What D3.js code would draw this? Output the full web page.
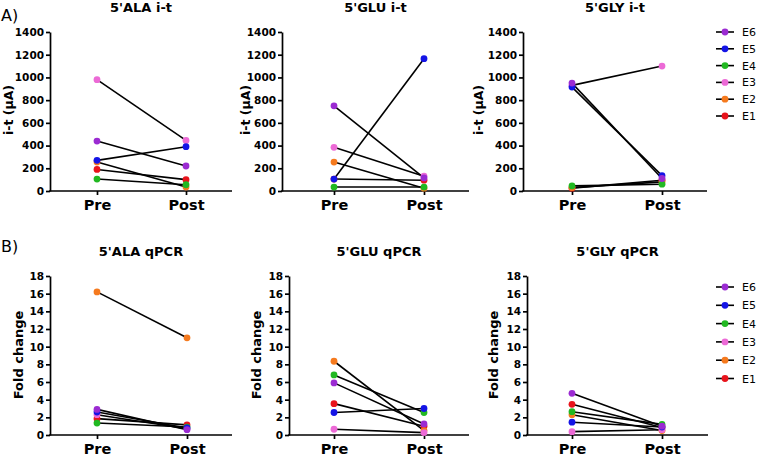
<!DOCTYPE html>
<html>
<head>
<meta charset="utf-8">
<script src="https://cdn.jsdelivr.net/npm/d3@7/dist/d3.min.js"></script>
<style>
  html, body { margin: 0; padding: 0; background: #fff; }
  svg { display: block; }
  text { font-family: "DejaVu Sans", sans-serif; fill: #000; }
</style>
</head>
<body>
<svg id="chart" width="758" height="456"></svg>
<script>
// ---------- data ----------
const seriesNames  = ["E1", "E2", "E3", "E4", "E5", "E6"];
const seriesColors = ["#e8141c", "#f57a1e", "#ec6ad6", "#21b821", "#1414e6", "#9b2bd2"];
const timepoints   = ["Pre", "Post"];

const itTicks = [0, 200, 400, 600, 800, 1000, 1200, 1400];
const fcTicks = [0, 2, 4, 6, 8, 10, 12, 14, 16, 18];

// values in order E1..E6
const alaItPre   = [190, 255, 980, 105, 270, 440];
const alaItPost  = [100, 35, 445, 55, 390, 220];
const gluItPre   = [105, 255, 385, 35, 105, 750];
const gluItPost  = [95, 25, 130, 35, 1165, 115];
const glyItPre   = [25, 30, 930, 45, 915, 950];
const glyItPost  = [95, 80, 1100, 60, 135, 110];

const alaQpcrPre  = [1.85, 16.2, 2.3, 1.35, 2.6, 2.9];
const alaQpcrPost = [1.15, 11.0, 0.7, 0.9, 0.8, 0.6];
const gluQpcrPre  = [3.55, 8.35, 0.65, 6.8, 2.55, 5.9];
const gluQpcrPost = [1.0, 0.5, 0.27, 2.55, 3.0, 1.25];
const glyQpcrPre  = [3.47, 2.3, 0.38, 2.64, 1.45, 4.72];
const glyQpcrPost = [0.85, 0.5, 0.6, 1.2, 0.9, 1.0];

// ---------- layout ----------
const rows = [
  { yTop: 32,  yBot: 191, ticks: itTicks, yLabel: "i-t (\u03bcA)", labelY: 110, titleY: 12, xLabY: 210,
    legendY0: 32, legendStep: 16.8, tag: "A)", tagY: 21 },
  { yTop: 276, yBot: 435, ticks: fcTicks, yLabel: "Fold change", labelY: 355, titleY: 256, xLabY: 454,
    legendY0: 287, legendStep: 18.3, tag: "B)", tagY: 252 }
];

const panels = [
  { title: "5'ALA i-t",  pre: alaItPre,   post: alaItPost,   row: 0, ax: 50,  x0: 97,  x1: 186, xe: 232, labX: 8 },
  { title: "5'GLU i-t",  pre: gluItPre,   post: gluItPost,   row: 0, ax: 282, x0: 334, x1: 424, xe: 469, labX: 245 },
  { title: "5'GLY i-t",  pre: glyItPre,   post: glyItPost,   row: 0, ax: 523, x0: 572, x1: 662, xe: 707, labX: 478 },
  { title: "5'ALA qPCR", pre: alaQpcrPre, post: alaQpcrPost, row: 1, ax: 50,  x0: 97,  x1: 187, xe: 232, labX: 18 },
  { title: "5'GLU qPCR", pre: gluQpcrPre, post: gluQpcrPost, row: 1, ax: 289, x0: 334, x1: 424, xe: 469, labX: 256 },
  { title: "5'GLY qPCR", pre: glyQpcrPre, post: glyQpcrPost, row: 1, ax: 527, x0: 572, x1: 662, xe: 708, labX: 493 }
];

const svg = d3.select("#chart");

panels.forEach(p => {
  const r = rows[p.row];
  const x = d3.scalePoint().domain(timepoints).range([p.x0, p.x1]);
  const y = d3.scaleLinear().domain([r.ticks[0], r.ticks[r.ticks.length - 1]]).range([r.yBot, r.yTop]);
  const g = svg.append("g");

  // y axis
  const yAx = g.append("g").attr("transform", `translate(${p.ax},0)`)
    .call(d3.axisLeft(y).tickValues(r.ticks).tickFormat(d3.format("d"))
      .tickSize(4).tickPadding(2).tickSizeOuter(0));
  yAx.selectAll("path, line").attr("stroke", "#000").attr("stroke-width", 1.7);
  yAx.selectAll("text").style("font-family", "DejaVu Sans").style("font-weight", "bold")
     .style("font-size", "10.5px").attr("fill", "#000");

  // x axis
  const xAx = g.append("g").attr("transform", `translate(0,${r.yBot})`)
    .call(d3.axisBottom(x).tickSize(4).tickPadding(5).tickSizeOuter(0));
  xAx.select(".domain").remove();
  xAx.append("line").attr("x1", p.ax - 0.85).attr("x2", p.xe).attr("y1", 0).attr("y2", 0)
     .attr("stroke", "#000").attr("stroke-width", 1.7);
  xAx.selectAll(".tick line").attr("stroke", "#000").attr("stroke-width", 1.7);
  xAx.selectAll("text").attr("y", null).attr("dy", null)
     .attr("transform", `translate(0,${r.xLabY - r.yBot})`)
     .style("font-family", "DejaVu Sans").style("font-weight", "bold")
     .style("font-size", "14.5px").attr("fill", "#000");

  // title
  g.append("text").attr("x", (p.ax + p.xe) / 2).attr("y", r.titleY)
   .attr("text-anchor", "middle").style("font-weight", "bold").style("font-size", "13px")
   .text(p.title);

  // y label
  g.append("text").attr("transform", `translate(${p.labX + 4.5},${r.labelY}) rotate(-90)`)
   .attr("text-anchor", "middle").style("font-weight", "bold")
   .style("font-size", p.row === 0 ? "12.5px" : "13px")
   .text(r.yLabel);

  // lines then points
  seriesNames.forEach((s, i) => {
    g.append("line")
      .attr("x1", x("Pre")).attr("y1", y(p.pre[i]))
      .attr("x2", x("Post")).attr("y2", y(p.post[i]))
      .attr("stroke", "#000").attr("stroke-width", 1.6);
  });
  seriesNames.forEach((s, i) => {
    [["Pre", p.pre[i]], ["Post", p.post[i]]].forEach(([t, v]) => {
      g.append("circle").attr("cx", x(t)).attr("cy", y(v)).attr("r", 3.4)
       .attr("fill", seriesColors[i]);
    });
  });
});

// row tags and legends
rows.forEach(r => {
  svg.append("text").attr("x", 1).attr("y", r.tagY).style("font-size", "16px").text(r.tag);
  const order = seriesNames.map((s, i) => i).reverse(); // E6 at top
  order.forEach((i, k) => {
    const yy = r.legendY0 + k * r.legendStep;
    const lg = svg.append("g");
    lg.append("line").attr("x1", 716).attr("x2", 734).attr("y1", yy).attr("y2", yy)
      .attr("stroke", "#000").attr("stroke-width", 1.6);
    lg.append("circle").attr("cx", 725).attr("cy", yy).attr("r", 3.4).attr("fill", seriesColors[i]);
    lg.append("text").attr("x", 742).attr("y", yy + 4).style("font-size", "11px").text(seriesNames[i]);
  });
});
</script>
</body>
</html>
